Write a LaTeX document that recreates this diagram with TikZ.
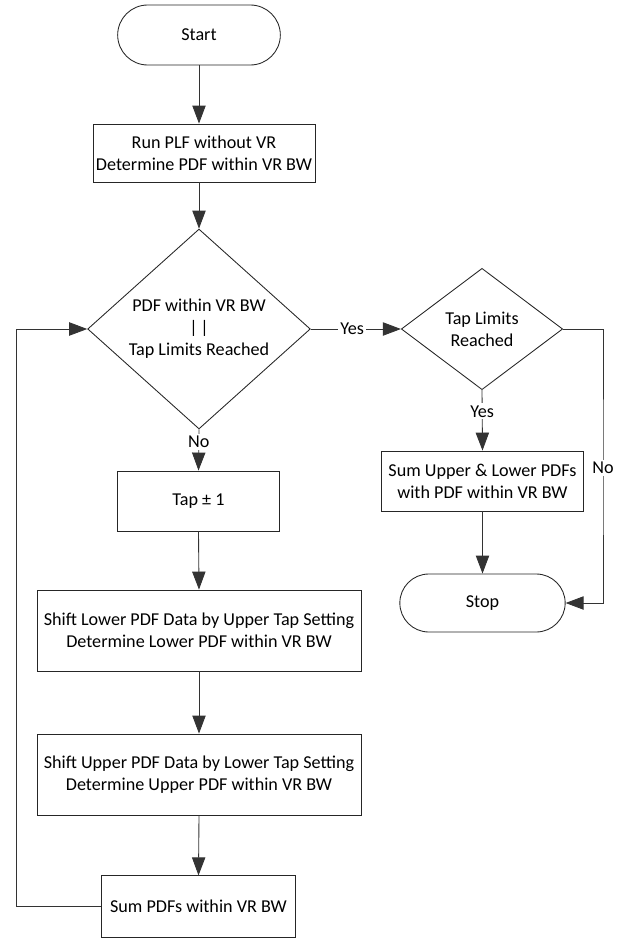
\documentclass[tikz,border=0pt]{standalone}
\usepackage{fontspec}
\setmainfont{Carlito}
\usepackage{tikz}
\usetikzlibrary{shapes.geometric,shapes.misc,arrows.meta,positioning}

\tikzset{
  term/.style={draw=black!85, line width=0.65pt, rounded rectangle, align=center, inner sep=0pt},
  proc/.style={draw=black!85, line width=0.65pt, rectangle, align=center, inner sep=0pt},
  decision/.style={draw=black!85, line width=0.65pt, diamond, align=center, inner sep=0pt},
  arr/.style={draw=black!80, line width=0.65pt, -{Triangle[length=13.5pt,width=10pt]}},
  lbl/.style={fill=white, inner sep=1.5pt}
}

\begin{document}
\begin{tikzpicture}[x=0.75pt,y=0.75pt,yscale=-1,xscale=1,
  font=\fontsize{13.6pt}{16.5pt}\selectfont]
\useasboundingbox (0,0) rectangle (623,939);

% main column
\node[term, minimum width=122pt, minimum height=45pt] (start) at (199,35) {Start};
\node[proc, minimum width=166.5pt, minimum height=43.5pt] (run) at (204,153)
  {Run PLF without VR\\Determine PDF within VR BW};
\node[decision, minimum width=167pt, minimum height=126pt] (dec) at (199,329)
  {PDF within VR BW\\|\kern2pt|\\Tap Limits Reached};
\node[proc, minimum width=122pt, minimum height=45pt] (tap) at (198.5,501) {Tap ± 1};
\node[proc, minimum width=243pt, minimum height=60.75pt] (shl) at (199,630.5)
  {Shift Lower PDF Data by Upper Tap Setting\\Determine Lower PDF within VR BW};
\node[proc, minimum width=243pt, minimum height=60.75pt] (shu) at (199,774.5)
  {Shift Upper PDF Data by Lower Tap Setting\\Determine Upper PDF within VR BW};
\node[proc, minimum width=145pt, minimum height=46pt] (sum) at (198.5,906.5) {Sum PDFs within VR BW};

% right column
\node[decision, minimum width=121pt, minimum height=91pt] (lim) at (482,329)
  {Tap Limits\\Reached};
\node[proc, minimum width=152pt, minimum height=45pt] (sumul) at (482.5,481)
  {Sum Upper \& Lower PDFs\\with PDF within VR BW};
\node[term, minimum width=124pt, minimum height=43.5pt] (stop) at (482.5,603) {Stop};

\coordinate (loop) at (16,329);
\coordinate (side) at (603,468);

% connectors
\draw[arr] (start.south) -- (start.south |- run.north);
\draw[arr] (dec.north |- run.south) -- (dec.north);
\draw[arr] (dec.south) -- node[lbl, pos=0.31] {No} (tap.north);
\draw[arr] (tap.south) -- (shl.north);
\draw[arr] (shl.south) -- (shu.north);
\draw[arr] (shu.south) -- (sum.north);
\draw[arr] (sum.west) -| (loop) -- (dec.west);
\draw[arr] (dec.east) -- node[lbl, pos=0.46] {Yes} (lim.west);
\draw[arr] (lim.south) -- node[lbl, pos=0.35] {Yes} (sumul.north);
\draw[arr] (sumul.south) -- (stop.north);
\draw[arr] (lim.east) -| (side) node[lbl] {No} |- (stop.east);

\end{tikzpicture}
\end{document}
